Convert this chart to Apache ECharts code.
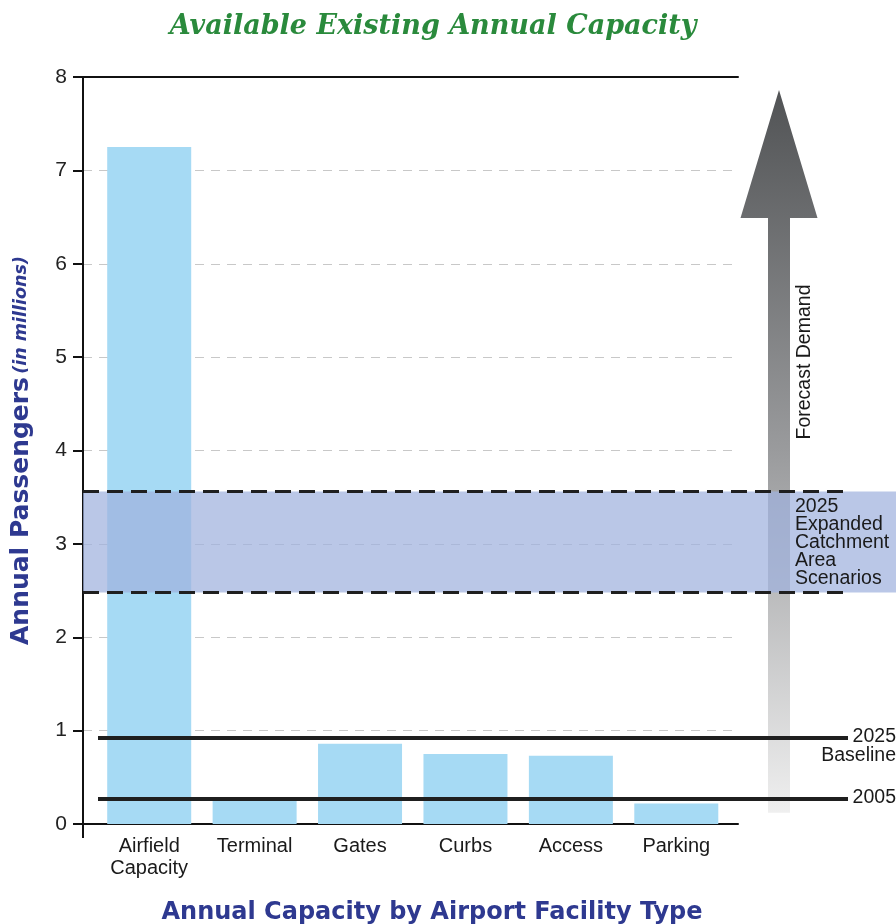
<!DOCTYPE html>
<html><head><meta charset="utf-8">
<script src="https://cdn.jsdelivr.net/npm/echarts@6/dist/echarts.min.js"></script>
<style>html,body{margin:0;padding:0;background:#fff}#c{width:896px;height:924px}</style>
</head><body><div id="c"></div>
<script>
// ---- data ----
const categories = ['Airfield\nCapacity', 'Terminal', 'Gates', 'Curbs', 'Access', 'Parking'];
const capacity = [7.25, 0.26, 0.86, 0.75, 0.73, 0.22];
const yMin = 0, yMax = 8, yInterval = 1;
const baseline2025 = 0.92;
const actual2005 = 0.27;
const catchmentLow = 2.48;
const catchmentHigh = 3.56;
const forecastFrom = 0.12;
const forecastTo = 7.86;
const chartTitle = 'Available Existing Annual Capacity';
const xTitle = 'Annual Capacity by Airport Facility Type';
const catchmentLabel = '2025\nExpanded\nCatchment\nArea\nScenarios';
const forecastLabel = 'Forecast Demand';

const FONT = "'Liberation Sans'";
const BOLDFONT = "'DejaVu Sans'";
const NAVY = '#2e3990';
const chart = echarts.init(document.getElementById('c'));

const solid = {color: '#1f1f1f', width: 4, type: 'solid'};
const dashed = {color: '#1f1f1f', width: 3, type: [16, 8]};

chart.setOption({
  animation: false,
  backgroundColor: '#fff',
  title: [
    {text: chartTitle, left: 428, top: 8, textAlign: 'center',
     textStyle: {fontFamily: "'DejaVu Serif'", fontStyle: 'italic', fontWeight: 'bold', fontSize: 27, color: '#2a8a3c'}},
    {text: xTitle, left: 427, top: 896, textAlign: 'center',
     textStyle: {fontFamily: BOLDFONT, fontWeight: 'bold', fontSize: 24, color: NAVY}}
  ],
  grid: [
    {left: 83, top: 77, width: 655, height: 747, containLabel: false},
    {left: 96.5, top: 77, width: 632.5, height: 747, containLabel: false}
  ],
  xAxis: [
    {gridIndex: 0, type: 'value', min: 0, max: 1, position: 'bottom',
     axisLine: {show: true, onZero: false, lineStyle: {color: '#111', width: 2}},
     axisTick: {show: false}, axisLabel: {show: false}, splitLine: {show: false}},
    {gridIndex: 0, type: 'value', min: 0, max: 1, position: 'top',
     axisLine: {show: true, onZero: false, lineStyle: {color: '#111', width: 2}},
     axisTick: {show: false}, axisLabel: {show: false}, splitLine: {show: false}},
    {gridIndex: 1, type: 'category', data: categories, position: 'bottom',
     axisLine: {show: false}, axisTick: {show: false},
     axisLabel: {fontFamily: FONT, fontSize: 20, color: '#1a1a1a', lineHeight: 22, margin: 11}}
  ],
  yAxis: [
    {gridIndex: 0, type: 'value', min: yMin, max: yMax, interval: yInterval,
     axisLine: {show: true, onZero: false, lineStyle: {color: '#111', width: 2}},
     axisTick: {show: true, length: 10, lineStyle: {color: '#111', width: 2}},
     axisLabel: {fontFamily: FONT, fontSize: 21, color: '#222', margin: 16},
     splitLine: {show: true, lineStyle: {color: '#c8c8c8', width: 1, type: [9, 7]}},
     name: '{a|Annual Passengers} {b|(in millions)}',
     nameLocation: 'middle', nameRotate: 90, nameGap: 49,
     nameTextStyle: {rich: {
       a: {fontFamily: BOLDFONT, fontWeight: 'bold', fontSize: 25, color: NAVY},
       b: {fontFamily: BOLDFONT, fontWeight: 'bold', fontStyle: 'italic', fontSize: 17.5, color: NAVY}
     }}},
    {gridIndex: 1, type: 'value', min: yMin, max: yMax, interval: yInterval, show: false}
  ],
  series: [{
    type: 'bar', xAxisIndex: 2, yAxisIndex: 1, data: capacity, barWidth: 84, clip: false,
    itemStyle: {color: '#a6daf4'}, silent: true,
    markArea: {
      silent: true, z: 3,
      itemStyle: {color: 'rgba(160,177,222,0.72)'},
      label: {show: false},
      data: [[{xAxis: 0, yAxis: catchmentHigh, x: 83}, {xAxis: 5, yAxis: catchmentLow, x: 896}]]
    },
    markLine: {
      silent: true, symbol: 'none', z: 5, label: {show: false},
      data: [
        [{xAxis: 0, yAxis: catchmentHigh, x: 83, lineStyle: dashed}, {xAxis: 5, yAxis: catchmentHigh, x: 848}],
        [{xAxis: 0, yAxis: catchmentLow, x: 83, lineStyle: dashed}, {xAxis: 5, yAxis: catchmentLow, x: 848}],
        [{xAxis: 0, yAxis: baseline2025, x: 98, lineStyle: solid}, {xAxis: 5, yAxis: baseline2025, x: 848}],
        [{xAxis: 0, yAxis: actual2005, x: 98, lineStyle: solid}, {xAxis: 5, yAxis: actual2005, x: 848}]
      ]
    }
  }]
});

// annotations positioned from the y scale
const py = v => chart.convertToPixel({yAxisIndex: 0}, v);
const yTip = py(forecastTo), yBot = py(forecastFrom), yHead = yTip + 128;
const cx = 779;
const txt = {fontFamily: FONT, fontSize: 19.5, fill: '#1a1a1a'};
chart.setOption({
  graphic: [
    {type: 'polygon', z: 1, silent: true,
     shape: {points: [[cx, yTip], [cx + 38.5, yHead], [cx + 11, yHead], [cx + 11, yBot], [cx - 11, yBot], [cx - 11, yHead], [cx - 38.5, yHead]]},
     style: {fill: {type: 'linear', x: 0, y: yTip, x2: 0, y2: yBot, global: true,
       colorStops: [{offset: 0, color: '#515355'}, {offset: 0.5, color: '#9a9b9d'}, {offset: 1, color: '#efefef'}]}}},
    {type: 'text', z: 10, silent: true, x: 805, y: 362, rotation: Math.PI / 2,
     style: Object.assign({text: forecastLabel, align: 'center', verticalAlign: 'middle'}, txt)},
    {type: 'text', z: 10, silent: true, x: 795, y: (py(catchmentHigh) + py(catchmentLow)) / 2 + 1,
     style: Object.assign({text: catchmentLabel, align: 'left', verticalAlign: 'middle', lineHeight: 18}, txt)},
    {type: 'text', z: 10, silent: true, x: 896, y: py(baseline2025) - 1,
     style: Object.assign({text: '2025', align: 'right', verticalAlign: 'middle'}, txt)},
    {type: 'text', z: 10, silent: true, x: 896, y: py(baseline2025) + 18,
     style: Object.assign({text: 'Baseline', align: 'right', verticalAlign: 'middle'}, txt)},
    {type: 'text', z: 10, silent: true, x: 896, y: py(actual2005) - 1,
     style: Object.assign({text: '2005', align: 'right', verticalAlign: 'middle'}, txt)},
    {type: 'line', z: 10, silent: true, shape: {x1: 83, y1: py(yMin), x2: 83, y2: py(yMin) + 14},
     style: {stroke: '#111', lineWidth: 2}}
  ]
});
</script>
</body></html>
